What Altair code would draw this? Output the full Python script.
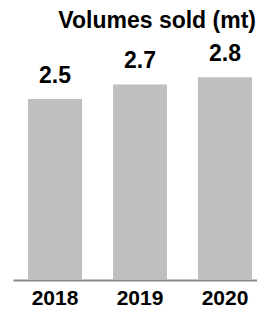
import altair as alt
import pandas as pd

years = ["2018", "2019", "2020"]
volumes = [2.5, 2.7, 2.8]
labels = ["2.5", "2.7", "2.8"]

df = pd.DataFrame({"year": years, "volume": volumes, "label": labels})

FONT = "Liberation Sans"

x = alt.X(
    "year:N",
    sort=years,
    title=None,
    scale=alt.Scale(paddingInner=0.365, paddingOuter=0.118, align=0.75),
    axis=alt.Axis(
        labelAngle=0,
        labelFont=FONT,
        labelFontSize=21,
        labelFontWeight="bold",
        labelColor="#000000",
        labelPadding=7,
        ticks=False,
        grid=False,
        domainColor="#8A8A8A",
        domainWidth=2,
    ),
)
y = alt.Y("volume:Q", scale=alt.Scale(domain=[0, 3.48], nice=False), axis=None)

bars = alt.Chart(df).mark_bar(color="#BFBFBF").encode(x=x, y=y)
text = alt.Chart(df).mark_text(
    font=FONT, fontSize=23, fontWeight="bold", color="#000000", dy=-16, baseline="alphabetic"
).encode(x=x, y=y, text="label:N")

chart = (
    alt.layer(bars, text)
    .properties(
        width=244,
        height=252,
        autosize=alt.AutoSizeParams(type="none"),
        padding={"left": 5, "right": 0, "top": 20, "bottom": 29},
        title=alt.TitleParams(
            "Volumes sold (mt)",
            font=FONT,
            fontSize=23,
            fontWeight="bold",
            color="#000000",
            anchor="end",
            dx=-1,
            dy=23,
            baseline="alphabetic",
            offset=0,
        ),
    )
    .configure_view(stroke=None)
)

chart.save("out.html", embed_options={"renderer": "svg", "actions": False})
